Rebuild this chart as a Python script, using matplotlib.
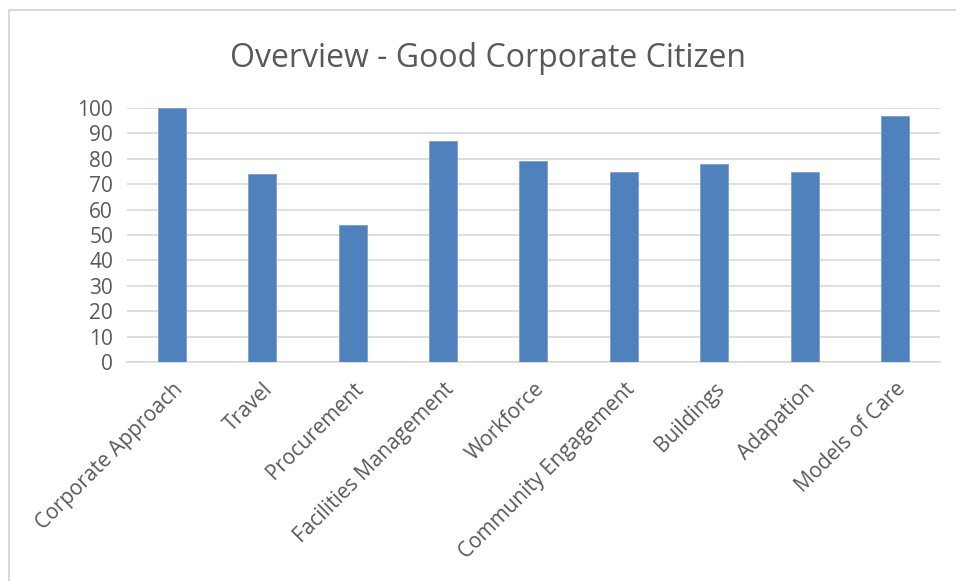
import matplotlib
matplotlib.use('Agg')
import matplotlib.pyplot as plt
from matplotlib.lines import Line2D
import numpy as np

categories = ["Corporate Approach", "Travel", "Procurement", "Facilities Management",
              "Workforce", "Community Engagement", "Buildings", "Adapation", "Models of Care"]
scores = [100, 74, 54, 87, 79, 75, 78, 75, 97]
y_ticks = [0, 10, 20, 30, 40, 50, 60, 70, 80, 90, 100]

plt.rcParams['font.family'] = ['Open Sans', 'DejaVu Sans']
text_color = '#595959'

fig = plt.figure(figsize=(9.56, 5.81), dpi=100)
ax = fig.add_axes([0.1328, 0.3769, 0.8505, 0.4372])

x = np.arange(len(categories))
ax.bar(x, scores, width=0.31, color='#4F81BD', edgecolor='#7AA0D0', linewidth=0.6, zorder=3)

ax.set_xlim(-0.5, len(categories) - 0.5)
ax.set_ylim(0, 100)
ax.set_yticks(y_ticks)
ax.set_xticks(x)
ax.set_xticklabels(categories, rotation=45, ha='right', rotation_mode='anchor',
                   fontsize=15, color=text_color)
ax.tick_params(axis='y', labelsize=15, labelcolor=text_color, length=0, pad=10)
ax.tick_params(axis='x', length=0, pad=12)

ax.yaxis.grid(True, color='#D9D9D9', linewidth=1.2, zorder=0)
ax.set_axisbelow(True)
for side in ['top', 'right', 'left']:
    ax.spines[side].set_visible(False)
ax.spines['bottom'].set_color('#D9D9D9')
ax.spines['bottom'].set_linewidth(1.2)

fig.text(0.51, 0.9, "Overview - Good Corporate Citizen", ha='center', va='center',
         fontsize=23, color=text_color)

# outer chart border (top and left visible only)
W, H = 956.0, 581.0
fig.add_artist(Line2D([9 / W, 1.0], [1 - 10 / H, 1 - 10 / H], color='#D9D9D9', linewidth=1.5))
fig.add_artist(Line2D([9 / W, 9 / W], [0.0, 1 - 10 / H], color='#D9D9D9', linewidth=1.5))

plt.savefig("out.png", dpi=100)
